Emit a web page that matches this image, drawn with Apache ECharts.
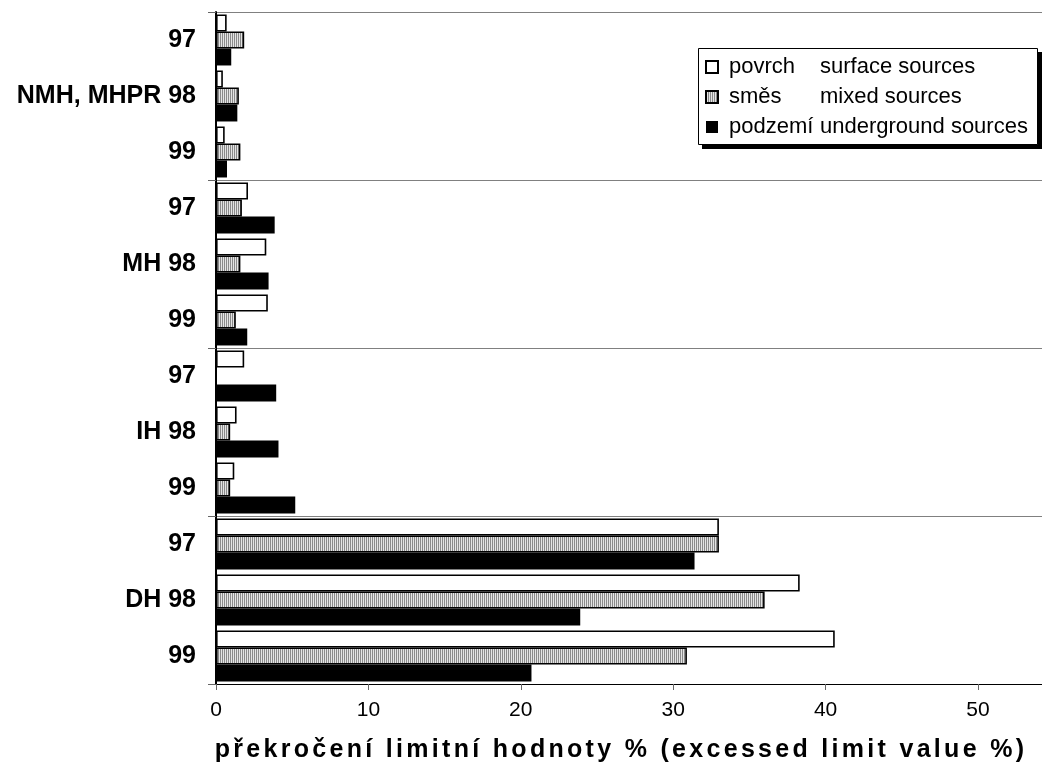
<!DOCTYPE html>
<html>
<head>
<meta charset="utf-8">
<script src="https://cdn.jsdelivr.net/npm/echarts@6/dist/echarts.min.js"></script>
<style>
html,body{margin:0;padding:0;background:#fff;}
#chart{width:1042px;height:770px;}
</style>
</head>
<body>
<div id="chart"></div>
<script>
// ---- data ----
const categories = ['97', 'NMH, MHPR 98', '99', '97', 'MH 98', '99', '97', 'IH 98', '99', '97', 'DH 98', '99'];
const seriesNames = ['povrch', 'směs', 'podzemí'];
const seriesEnglish = ['surface sources', 'mixed sources', 'underground sources'];
const povrch  = [0.7, 0.45, 0.57, 2.1, 3.3, 3.4, 1.85, 1.35, 1.2, 33.0, 38.3, 40.6];
const smes    = [1.85, 1.5, 1.6, 1.7, 1.6, 1.3, 0, 0.93, 0.93, 33.0, 36.0, 30.9];
const podzemi = [1.0, 1.4, 0.72, 3.85, 3.45, 2.05, 3.95, 4.1, 5.2, 31.4, 23.9, 20.7];
const xTicks = [0, 10, 20, 30, 40, 50];
const xTitle = 'překročení limitní hodnoty % (excessed limit value %)';

const FONT = "'Liberation Sans', Arial, sans-serif";

// letter spacing for the axis title only
const origFill = CanvasRenderingContext2D.prototype.fillText;
CanvasRenderingContext2D.prototype.fillText = function (t, x, y, w) {
  if (t === xTitle) {
    this.letterSpacing = '3.3px';
    origFill.call(this, t, x, y);
    this.letterSpacing = '0px';
    return;
  }
  this.letterSpacing = '0px';
  return origFill.apply(this, arguments);
};

// vertical stripe pattern
const pc = document.createElement('canvas');
pc.width = 2; pc.height = 4;
const pctx = pc.getContext('2d');
pctx.fillStyle = '#e4e4e4'; pctx.fillRect(0, 0, 2, 4);
pctx.fillStyle = '#8a8a8a'; pctx.fillRect(0, 0, 1, 4);

const groupTick = (idx) => idx % 3 === 0;

const chart = echarts.init(document.getElementById('chart'), null, {renderer: 'canvas'});
const option = {
  animation: false,
  backgroundColor: '#fff',
  textStyle: {fontFamily: FONT},
  grid: {left: 216, right: 0, top: 12, bottom: 86, containLabel: false},
  xAxis: {
    type: 'value', min: 0, max: 54.2, interval: 10,
    axisLine: {show: true, lineStyle: {color: '#000', width: 1}},
    axisTick: {show: true, length: 6, lineStyle: {color: '#666'}},
    splitLine: {show: false},
    axisLabel: {
      fontSize: 21, color: '#000', margin: 16, fontFamily: FONT,
      showMaxLabel: false,
      formatter: (v) => (xTicks.indexOf(v) >= 0 ? String(v) : '')
    }
  },
  yAxis: {
    type: 'category', inverse: true, data: categories,
    axisLine: {show: true, lineStyle: {color: '#000', width: 2}},
    axisTick: {show: true, interval: groupTick, length: 8, lineStyle: {color: '#666'}},
    splitLine: {show: true, interval: groupTick, lineStyle: {color: '#808080', width: 1}},
    axisLabel: {interval: 0, fontSize: 25, fontWeight: 'bold', color: '#000', margin: 20, fontFamily: FONT}
  },
  legend: {
    orient: 'vertical', left: 705, top: 56,
    selectedMode: false,
    itemWidth: 12, itemHeight: 12, itemGap: 8, padding: 0,
    icon: 'rect',
    data: seriesNames,
    formatter: (name) => {
      const i = seriesNames.indexOf(name);
      return '{a|' + name + '}{b|' + seriesEnglish[i] + '}';
    },
    textStyle: {
      fontFamily: FONT, fontSize: 22, color: '#000',
      rich: {
        a: {fontFamily: FONT, fontSize: 22, color: '#000', width: 91, padding: [0, 0, 0, 6], lineHeight: 22},
        b: {fontFamily: FONT, fontSize: 22, color: '#000', lineHeight: 22}
      }
    },
    z: 10
  },
  graphic: [
    {type: 'rect', z: 5, shape: {x: 702, y: 52, width: 340, height: 97}, style: {fill: '#000'}},
    {type: 'rect', z: 6, shape: {x: 698.5, y: 48.5, width: 339, height: 96}, style: {fill: '#fff', stroke: '#000', lineWidth: 1}},
    {type: 'text', z: 6, x: 621, y: 750,
     style: {text: xTitle, font: 'bold 25px ' + FONT, fill: '#000', textAlign: 'center', textVerticalAlign: 'middle'}}
  ],
  series: [
    {name: seriesNames[0], type: 'bar', data: povrch, barGap: '0%', barCategoryGap: '9%',
     itemStyle: {color: '#fff', borderColor: '#000', borderWidth: 1.6}},
    {name: seriesNames[1], type: 'bar', data: smes, barGap: '0%', barCategoryGap: '9%',
     itemStyle: {color: {image: pc, repeat: 'repeat'}, borderColor: '#000', borderWidth: 1.6}},
    {name: seriesNames[2], type: 'bar', data: podzemi, barGap: '0%', barCategoryGap: '9%',
     itemStyle: {color: '#000', borderColor: '#000', borderWidth: 0}}
  ]
};
chart.setOption(option);
</script>
</body>
</html>
